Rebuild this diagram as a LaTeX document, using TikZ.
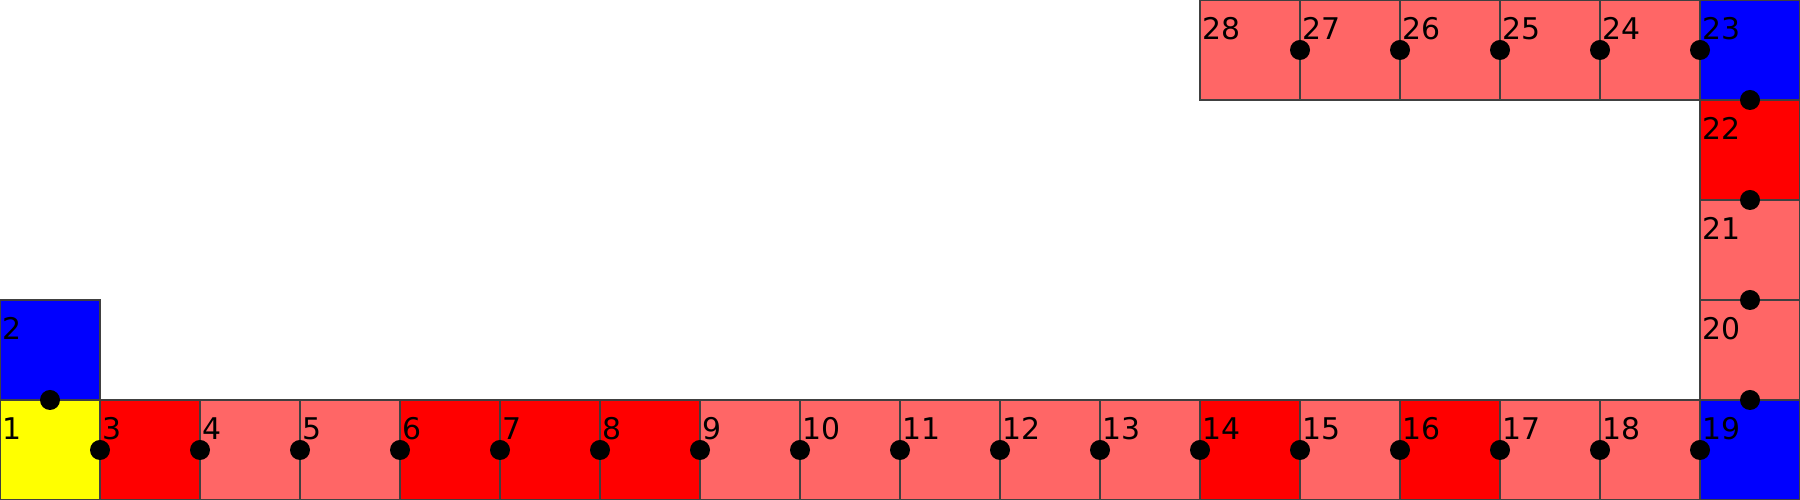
\documentclass[tikz,border=0pt]{standalone}
\usepackage{fontspec}
\setsansfont{DejaVu Sans}
\usepackage{xcolor}
\usepackage{tikz}
\usetikzlibrary{positioning}
\definecolor{gbStart}{HTML}{FFFF00}
\definecolor{gbHot}{HTML}{FF0000}
\definecolor{gbWarm}{HTML}{FF6666}
\definecolor{gbTurn}{HTML}{0000FF}
\definecolor{gbEdge}{HTML}{404040}
\tikzset{
  gb grid/.style={font=\sffamily\fontsize{8.5}{10}\selectfont},
  gb cell/.style={draw=gbEdge, line width=0.45pt, minimum size=1cm,
    inner sep=0pt, outer sep=0pt},
  gb start/.style={gb cell, fill=gbStart},
  gb hot/.style={gb cell, fill=gbHot},
  gb warm/.style={gb cell, fill=gbWarm},
  gb turn/.style={gb cell, fill=gbTurn},
  gb num/.style={anchor=base west, inner sep=0pt, xshift=0.02cm, yshift=-0.4cm},
  gb dot/.style={circle, fill=black, minimum size=0.2cm, inner sep=0pt}
}

\begin{document}
\begin{tikzpicture}[gb grid]
\useasboundingbox (0,0) rectangle (18,5);
% bottom row
\node[gb start, label={[gb num]north west:1}] (c1) at (0.5,0.5) {};
\node[gb turn, label={[gb num]north west:2}] (c2) at (0.5,1.5) {};
\node[gb hot, label={[gb num]north west:3}] (c3) at (1.5,0.5) {};
\node[gb warm, label={[gb num]north west:4}] (c4) at (2.5,0.5) {};
\node[gb warm, label={[gb num]north west:5}] (c5) at (3.5,0.5) {};
\node[gb hot, label={[gb num]north west:6}] (c6) at (4.5,0.5) {};
\node[gb hot, label={[gb num]north west:7}] (c7) at (5.5,0.5) {};
\node[gb hot, label={[gb num]north west:8}] (c8) at (6.5,0.5) {};
\node[gb warm, label={[gb num]north west:9}] (c9) at (7.5,0.5) {};
\node[gb warm, label={[gb num]north west:10}] (c10) at (8.5,0.5) {};
\node[gb warm, label={[gb num]north west:11}] (c11) at (9.5,0.5) {};
\node[gb warm, label={[gb num]north west:12}] (c12) at (10.5,0.5) {};
\node[gb warm, label={[gb num]north west:13}] (c13) at (11.5,0.5) {};
\node[gb hot, label={[gb num]north west:14}] (c14) at (12.5,0.5) {};
\node[gb warm, label={[gb num]north west:15}] (c15) at (13.5,0.5) {};
\node[gb hot, label={[gb num]north west:16}] (c16) at (14.5,0.5) {};
\node[gb warm, label={[gb num]north west:17}] (c17) at (15.5,0.5) {};
\node[gb warm, label={[gb num]north west:18}] (c18) at (16.5,0.5) {};
\node[gb turn, label={[gb num]north west:19}] (c19) at (17.5,0.5) {};
% right column
\node[gb warm, label={[gb num]north west:20}] (c20) at (17.5,1.5) {};
\node[gb warm, label={[gb num]north west:21}] (c21) at (17.5,2.5) {};
\node[gb hot, label={[gb num]north west:22}] (c22) at (17.5,3.5) {};
\node[gb turn, label={[gb num]north west:23}] (c23) at (17.5,4.5) {};
% top row
\node[gb warm, label={[gb num]north west:24}] (c24) at (16.5,4.5) {};
\node[gb warm, label={[gb num]north west:25}] (c25) at (15.5,4.5) {};
\node[gb warm, label={[gb num]north west:26}] (c26) at (14.5,4.5) {};
\node[gb warm, label={[gb num]north west:27}] (c27) at (13.5,4.5) {};
\node[gb warm, label={[gb num]north west:28}] (c28) at (12.5,4.5) {};
% path markers
\node[gb dot] (d2) at (c2.south) {};
\node[gb dot] (d3) at (c3.west) {};
\node[gb dot] (d4) at (c4.west) {};
\node[gb dot] (d5) at (c5.west) {};
\node[gb dot] (d6) at (c6.west) {};
\node[gb dot] (d7) at (c7.west) {};
\node[gb dot] (d8) at (c8.west) {};
\node[gb dot] (d9) at (c9.west) {};
\node[gb dot] (d10) at (c10.west) {};
\node[gb dot] (d11) at (c11.west) {};
\node[gb dot] (d12) at (c12.west) {};
\node[gb dot] (d13) at (c13.west) {};
\node[gb dot] (d14) at (c14.west) {};
\node[gb dot] (d15) at (c15.west) {};
\node[gb dot] (d16) at (c16.west) {};
\node[gb dot] (d17) at (c17.west) {};
\node[gb dot] (d18) at (c18.west) {};
\node[gb dot] (d19) at (c19.west) {};
\node[gb dot] (d20) at (c20.south) {};
\node[gb dot] (d21) at (c21.south) {};
\node[gb dot] (d22) at (c22.south) {};
\node[gb dot] (d23) at (c23.south) {};
\node[gb dot] (d24) at (c24.east) {};
\node[gb dot] (d25) at (c25.east) {};
\node[gb dot] (d26) at (c26.east) {};
\node[gb dot] (d27) at (c27.east) {};
\node[gb dot] (d28) at (c28.east) {};
\end{tikzpicture}
\end{document}
